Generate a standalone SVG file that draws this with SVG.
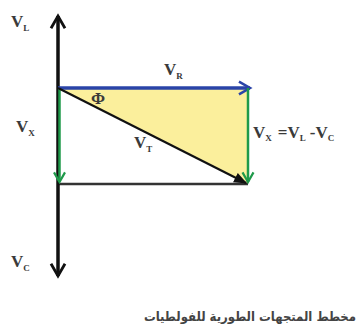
<svg xmlns="http://www.w3.org/2000/svg" width="364" height="329" viewBox="0 0 364 329">
<style>
.lbl{font-family:"Liberation Serif",serif;font-weight:bold;fill:#3a3a3a;font-size:17px}
.sub{font-size:9px}
.cap{font-family:"DejaVu Sans Condensed","DejaVu Sans",sans-serif;font-weight:bold;fill:#444;font-size:13px}
</style>
<defs>
<marker id="ab" viewBox="0 0 10 10" refX="8" refY="5" markerWidth="5" markerHeight="5" orient="auto" markerUnits="strokeWidth"><path d="M1,1 L8,5 L1,9" fill="none" stroke="#111" stroke-width="1.6"/></marker>
<marker id="ag" viewBox="0 0 10 10" refX="8" refY="5" markerWidth="5.5" markerHeight="5.5" orient="auto" markerUnits="strokeWidth"><path d="M1,1 L8,5 L1,9" fill="none" stroke="#1f9a4a" stroke-width="1.6"/></marker>
<marker id="abl" viewBox="0 0 10 10" refX="8" refY="5" markerWidth="4.5" markerHeight="4.5" orient="auto" markerUnits="strokeWidth"><path d="M1,1 L8,5 L1,9" fill="none" stroke="#2a44a8" stroke-width="1.6"/></marker>
<marker id="at" viewBox="0 0 10 10" refX="9" refY="5" markerWidth="6" markerHeight="6" orient="auto" markerUnits="strokeWidth"><path d="M0,1 L10,5 L0,9 Z" fill="#111"/></marker>
</defs>
<g id="triangle"><polygon points="58,88 248,88 248,184" fill="#fbef9c"/></g>
<g id="connectors">
<line x1="58" y1="184" x2="248" y2="184" stroke="#333" stroke-width="2.5"/>
<line x1="58" y1="150" x2="58" y2="16" stroke="#111" stroke-width="3.5" marker-end="url(#ab)"/>
<line x1="58" y1="150" x2="58" y2="276" stroke="#111" stroke-width="3.5" marker-end="url(#ab)"/>
<line x1="58" y1="88" x2="250" y2="88" stroke="#2a44a8" stroke-width="3.5" marker-end="url(#abl)"/>
<line x1="59.5" y1="88" x2="59.5" y2="182" stroke="#1f9a4a" stroke-width="2.5" marker-end="url(#ag)"/>
<line x1="248" y1="88" x2="248" y2="182" stroke="#1f9a4a" stroke-width="2.5" marker-end="url(#ag)"/>
<line x1="58" y1="88" x2="246" y2="183" stroke="#111" stroke-width="2.2" marker-end="url(#at)"/>
</g>
<g id="labels">
<text class="lbl" x="11" y="27">V<tspan class="sub" dy="4">L</tspan></text>
<text class="lbl" x="164" y="75">V<tspan class="sub" dy="4">R</tspan></text>
<text class="lbl" x="91" y="104" font-size="13">Φ</text>
<text class="lbl" x="16" y="132">V<tspan class="sub" dy="4">X</tspan></text>
<text class="lbl" x="134" y="148">V<tspan class="sub" dy="4">T</tspan></text>
<text class="lbl" x="253" y="138" font-size="15">V<tspan class="sub" dy="3">X</tspan><tspan dy="-3" dx="6">=V</tspan><tspan class="sub" dy="3">L</tspan><tspan dy="-3" dx="4">-V</tspan><tspan class="sub" dy="3">C</tspan></text>
<text class="lbl" x="11" y="267">V<tspan class="sub" dy="4">C</tspan></text>
<text class="cap" x="356" y="321" text-anchor="end">مخطط المتجهات الطورية للفولطيات</text>
</g>
</svg>
